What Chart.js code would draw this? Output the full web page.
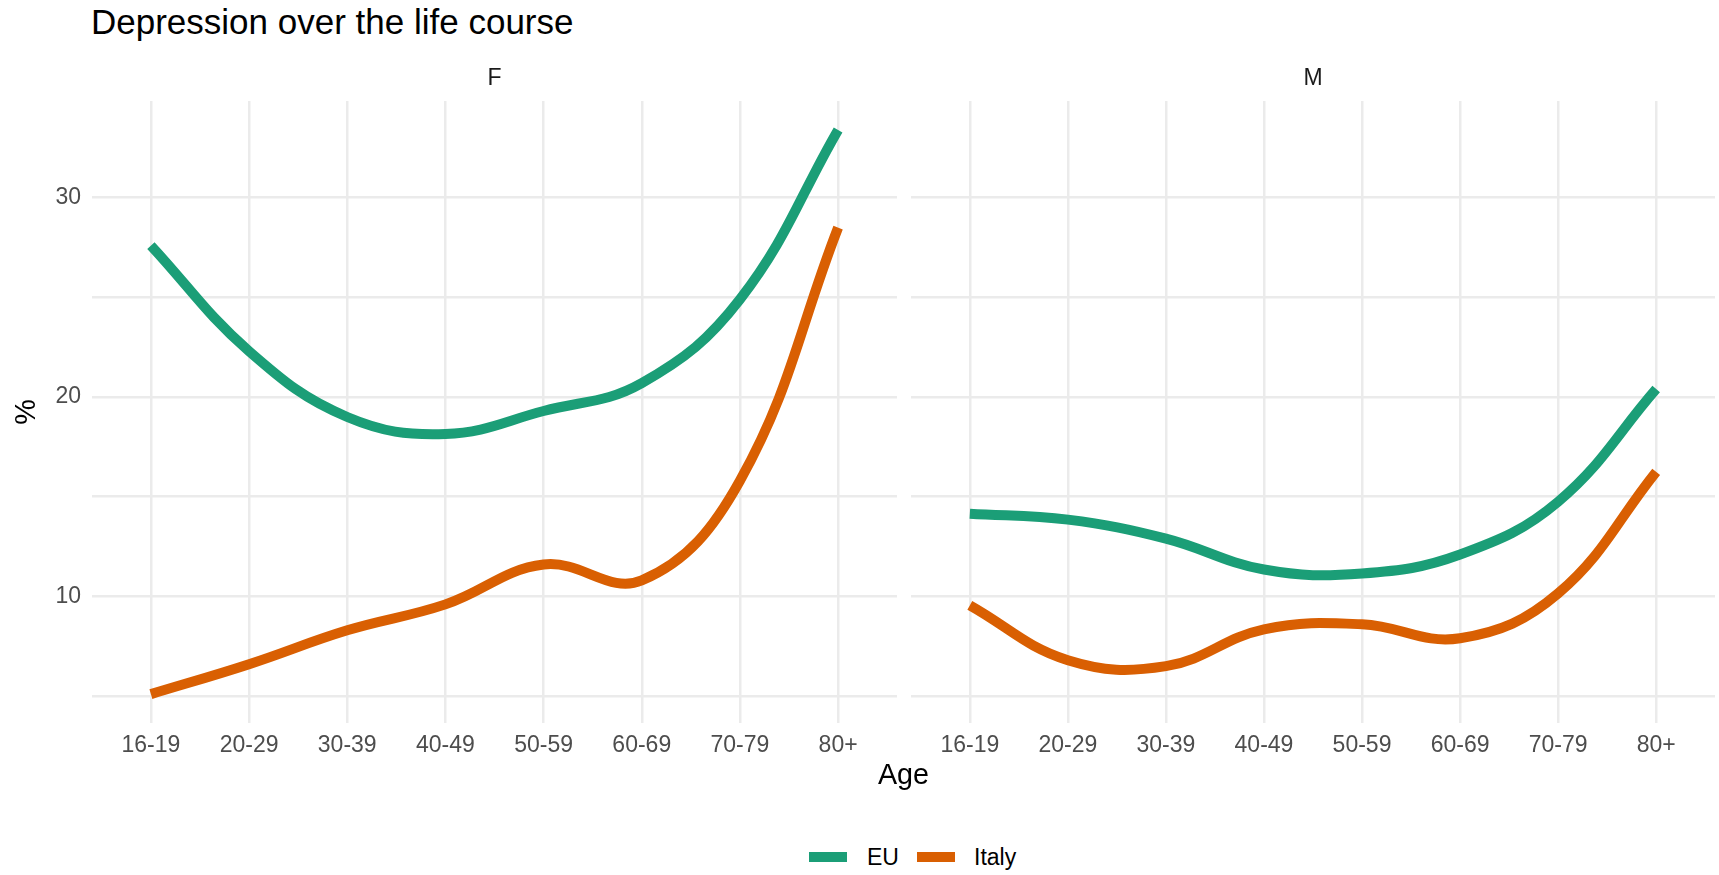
<!DOCTYPE html>
<html>
<head>
<meta charset="utf-8">
<script src="https://cdn.jsdelivr.net/npm/chart.js@4.4.1/dist/chart.umd.min.js"></script>
<style>
  html, body { margin:0; padding:0; background:#ffffff; }
  body { width:1719px; height:875px; overflow:hidden; position:relative; font-family:"Liberation Sans", Arial, sans-serif; }
  canvas { position:absolute; }
  #title { position:absolute; left:91px; top:4px; font-size:35px; line-height:35px; color:#000; white-space:nowrap; }
  #xtitle { position:absolute; left:0; width:1807px; top:760px; text-align:center; font-size:28.7px; line-height:28.7px; color:#000; }
  .leg { position:absolute; top:846px; font-size:23px; line-height:23px; color:#000; white-space:nowrap; }
  .key { position:absolute; top:852px; height:10px; width:38px; }
</style>
</head>
<body>
<div id="title">Depression over the life course</div>
<canvas id="cF" width="900" height="720" style="left:0px;top:60px;width:900px;height:720px;"></canvas>
<canvas id="cM" width="814" height="720" style="left:905px;top:60px;width:814px;height:720px;"></canvas>
<div id="xtitle">Age</div>
<div class="key" style="left:809px;background:#1B9E77;"></div>
<div class="leg" style="left:867px;">EU</div>
<div class="key" style="left:917px;background:#D95F02;"></div>
<div class="leg" style="left:974px;">Italy</div>
<script>
// ---- data ----
const ages = ['16-19','20-29','30-39','40-49','50-59','60-69','70-79','80+'];
const euF    = [27.6, 22.3, 19.0, 18.15, 19.3, 20.7, 24.9, 33.4];
const italyF = [5.1, 6.6, 8.3, 9.6, 11.6, 10.8, 15.8, 28.5];
const euM    = [14.15, 13.85, 12.9, 11.35, 11.15, 12.1, 14.75, 20.4];
const italyM = [9.55, 6.8, 6.5, 8.35, 8.6, 7.9, 10.15, 16.25];
const yGrid  = [5, 10, 15, 20, 25, 30];
const facets = ['F', 'M'];
const seriesNames = ['EU', 'Italy'];

const FONT = '"Liberation Sans", Arial, sans-serif';
const COLORS = ['#1B9E77', '#D95F02'];

function toPts(arr) { return arr.map((v, i) => ({ x: i, y: v })); }

function makeChart(id, eu, it, facet, showY, padRight, yWidth) {
  return new Chart(document.getElementById(id), {
    type: 'line',
    data: {
      datasets: [
        { label: seriesNames[0], data: toPts(eu), borderColor: COLORS[0], backgroundColor: COLORS[0],
          borderWidth: 10, pointRadius: 0, tension: 0.4, borderCapStyle: 'butt', borderJoinStyle: 'round', fill: false },
        { label: seriesNames[1], data: toPts(it), borderColor: COLORS[1], backgroundColor: COLORS[1],
          borderWidth: 10, pointRadius: 0, tension: 0.4, borderCapStyle: 'butt', borderJoinStyle: 'round', fill: false }
      ]
    },
    options: {
      responsive: false,
      animation: false,
      devicePixelRatio: 1,
      layout: { padding: { left: 0, right: padRight, top: 0, bottom: 0 } },
      plugins: {
        legend: { display: false },
        tooltip: { enabled: false },
        title: {
          display: true, text: facet, color: '#1A1A1A', fullSize: false,
          font: { family: FONT, size: 23, weight: 'normal', lineHeight: 1.2 },
          padding: { top: 5.2, bottom: 8.2 }
        }
      },
      scales: {
        x: {
          type: 'linear', min: -0.6, max: 7.6,
          afterBuildTicks: s => { s.ticks = ages.map((a, i) => ({ value: i })); },
          afterFit: s => { s.height = 57; },
          ticks: {
            callback: v => ages[v], color: '#4D4D4D', autoSkip: false, maxRotation: 0,
            font: { family: FONT, size: 23, lineHeight: 1.2 }, padding: 8.7
          },
          grid: { color: '#EBEBEB', lineWidth: 2.5, drawTicks: false },
          border: { display: false }
        },
        y: {
          type: 'linear', min: 3.65, max: 34.85,
          afterBuildTicks: s => { s.ticks = yGrid.map(v => ({ value: v })); },
          afterFit: s => { s.width = yWidth; },
          ticks: {
            display: showY,
            callback: v => (v % 10 === 0 ? String(v) : ''),
            color: '#4D4D4D', font: { family: FONT, size: 23 }, padding: 11
          },
          grid: { color: '#EBEBEB', lineWidth: 2.5, drawTicks: false },
          border: { display: false },
          title: {
            display: showY, text: '%', color: '#000000',
            font: { family: FONT, size: 28.7, lineHeight: 1.2 },
            padding: { top: 9.8, bottom: 0 }
          }
        }
      }
    }
  });
}

makeChart('cF', euF, italyF, facets[0], true, 3, 92);
makeChart('cM', euM, italyM, facets[1], false, 4, 6);
</script>
</body>
</html>
